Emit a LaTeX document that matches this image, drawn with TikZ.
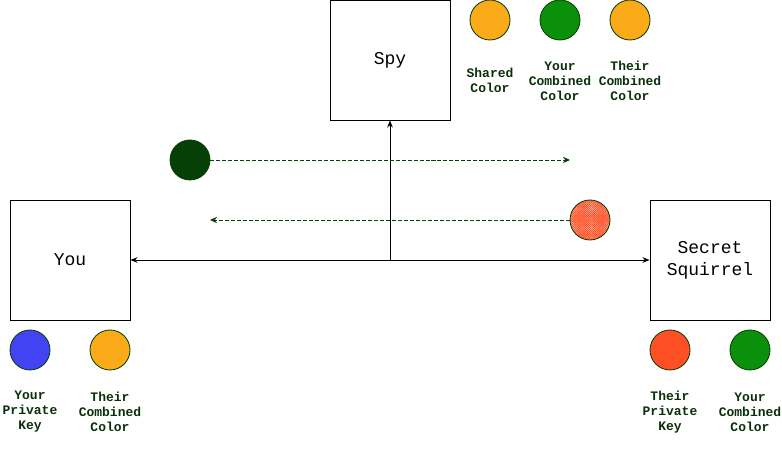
\documentclass[tikz,border=0pt]{standalone}
\usepackage{fontspec}
\setmonofont{Liberation Mono}
\usepackage{tikz}
\usetikzlibrary{calc, patterns, arrows.meta}
\usepackage{tkz-euclide}

\definecolor{keyorange}{HTML}{FBAA1A}
\definecolor{keygreen}{HTML}{0A900A}
\definecolor{keyblue}{HTML}{4343F3}
\definecolor{keyred}{HTML}{FF5025}
\definecolor{darkgreen}{HTML}{064006}
\definecolor{labelgreen}{HTML}{0A300A}

\tikzset{
  party/.style={draw, line width=1.4pt, minimum size=6cm, inner sep=0pt, align=center,
    font=\ttfamily\fontsize{25.6}{31.3}\selectfont},
  paint/.style={circle, draw=darkgreen, line width=1.2pt, minimum size=2cm, inner sep=0pt},
  paintlabel/.style={align=center, text=labelgreen,
    font=\ttfamily\bfseries\fontsize{18.5}{21.3}\selectfont},
  wire/.style={line width=1.4pt, -{Stealth[length=10pt,width=8pt]}},
  sent/.style={darkgreen, line width=1.4pt, dash pattern=on 5.7pt off 2.8pt,
    -{Stealth[length=10pt,width=9pt]}}
}

\begin{document}
\begin{tikzpicture}
        \useasboundingbox (0,0) rectangle (39.1,22.55);
        \tkzDefPoints{3.5/9.55/Y,19.5/19.55/S,35.5/9.55/Q,19.5/9.55/M}

        % the three parties
        \node[party] (you) at (Y) {You};
        \node[party] (spy) at (S) {Spy};
        \node[party] (squirrel) at (Q) {Secret\\Squirrel};

        \draw[wire] (M) -- (you.east);
        \draw[wire] (M) -- (squirrel.west);
        \draw[wire] (M) -- (spy.south);

        % what the spy sees
        \node[paint, fill=keyorange] (shared) at (24.5,21.55) {};
        \node[paint, fill=keygreen] (spyyours) at (28,21.55) {};
        \node[paint, fill=keyorange] (spytheirs) at (31.5,21.55) {};
        \node[paintlabel] at (24.5,18.55) {Shared\\Color};
        \node[paintlabel] at (28,18.5) {Your\\Combined\\Color};
        \node[paintlabel] at (31.5,18.5) {Their\\Combined\\Color};

        % your side
        \node[paint, fill=keyblue] (yourkey) at (1.5,5.05) {};
        \node[paint, fill=keyorange] (youtheirs) at (5.5,5.05) {};
        \node[paintlabel] at (1.5,1.95) {Your\\Private\\Key};
        \node[paintlabel] at (5.5,1.95) {Their\\Combined\\Color};

        % their side
        \node[paint, fill=keyred] (theirkey) at (33.5,5.05) {};
        \node[paint, fill=keygreen] (themyours) at (37.5,5.05) {};
        \node[paintlabel] at (33.5,1.95) {Their\\Private\\Key};
        \node[paintlabel] at (37.5,1.95) {Your\\Combined\\Color};

        % the exchange
        \node[paint, draw=darkgreen, fill=darkgreen] (outgoing) at (9.5,14.55) {};
        \node[paint, preaction={fill=keyred}, pattern=crosshatch dots, pattern color=white] (incoming) at (29.5,11.55) {};
        \coordinate (outend) at (28.5,14.55);
        \coordinate (inend) at (10.5,11.55);
        \draw[sent] (outgoing) -- (outend);
        \draw[sent] (incoming) -- (inend);
    \end{tikzpicture}
\end{document}
